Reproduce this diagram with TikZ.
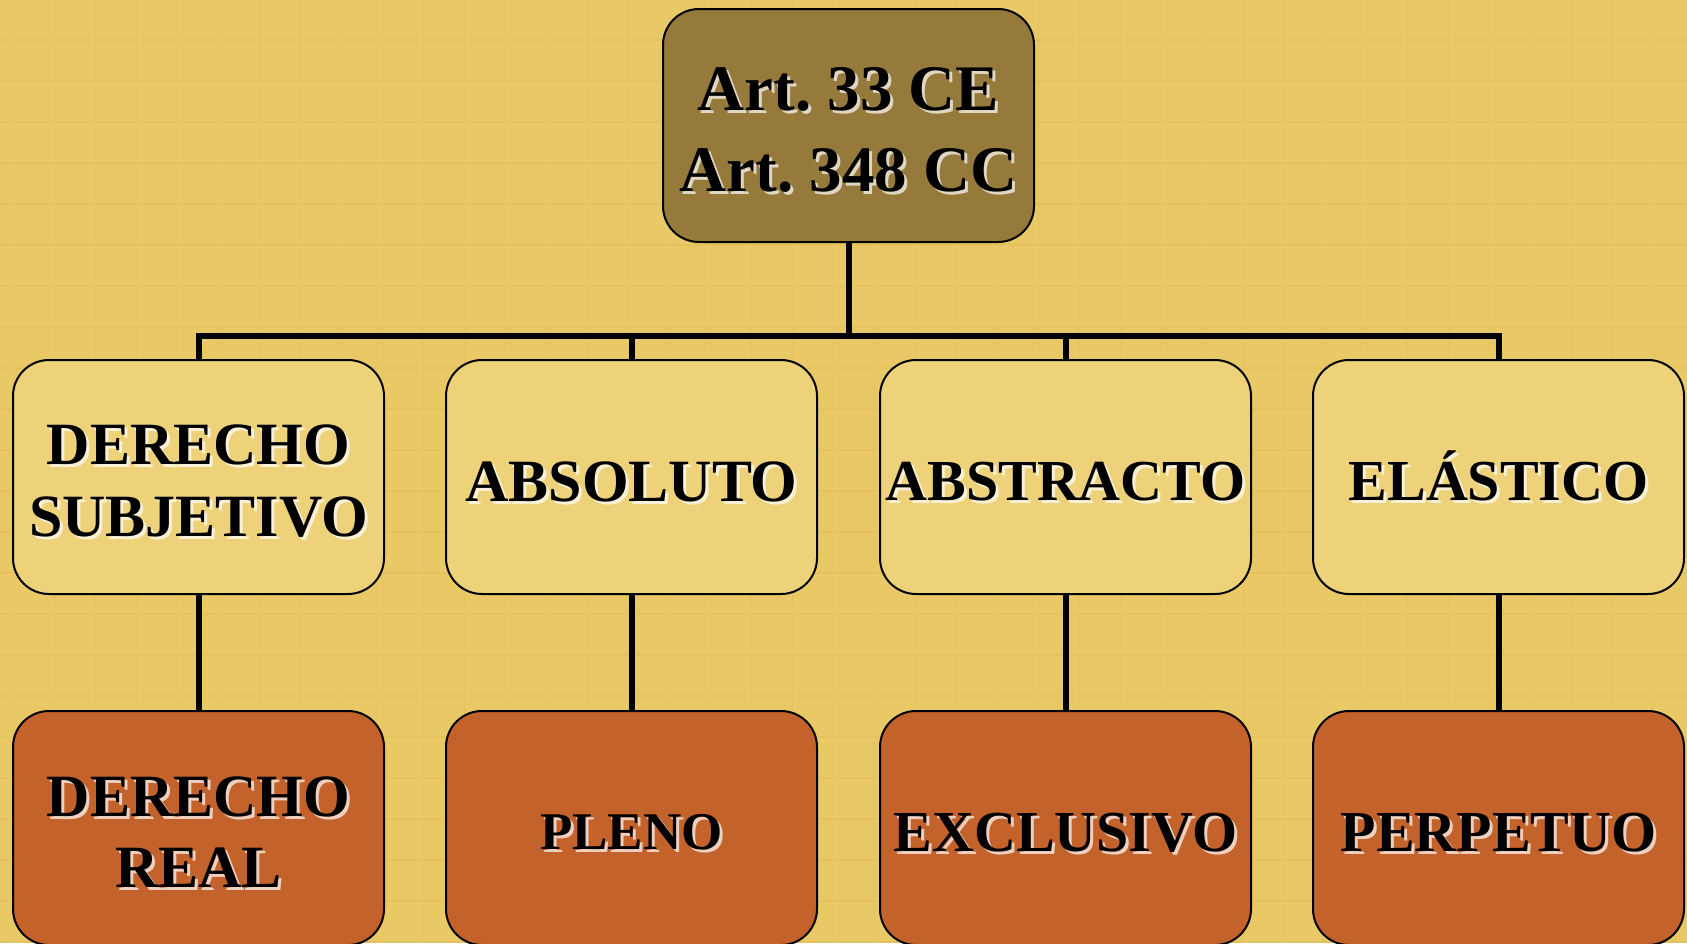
\documentclass[tikz,border=0pt]{standalone}
\usepackage{fontspec}
\setmainfont{Liberation Serif}
\frenchspacing
\definecolor{bg}{HTML}{E9C966}
\definecolor{gridc}{HTML}{E4C25E}
\definecolor{topc}{HTML}{967A3B}
\definecolor{midc}{HTML}{EED27A}
\definecolor{botc}{HTML}{C4622B}
\tikzset{
  box/.style={draw=black, line width=2pt, rounded corners=36pt, minimum width=371pt, minimum height=234pt, inner sep=0pt},
  topbox/.style={box, fill=topc, minimum height=233pt},
  midbox/.style={box, fill=midc},
  botbox/.style={box, fill=botc},
  sz/.style 2 args={font=\fontsize{#1pt}{#2pt}\selectfont\bfseries},
  lbl/.style={align=center, text=black, inner sep=0pt},
  shd/.style={lbl, text=white, text opacity=0.7},
  conn/.style={line width=6pt, draw=black},
  gridline/.style={draw=gridc, line width=1.6pt},
  caph/.style={text height=38.4pt, text depth=0pt},
}
\newcommand\lab[6][]{%
  \node[shd, sz={#4}{#5}, #1] (#2s) at ([shift={(3,7.5)}]#3.center) {#6};
  \node[lbl, sz={#4}{#5}, #1] (#2) at ([shift={(0,4.5)}]#3.center) {#6};}
\begin{document}
\begin{tikzpicture}[x=1pt,y=-1pt]
\useasboundingbox (0,0) rectangle (1687,943);
\clip (0,0) rectangle (1687,943);
\fill[bg] (0,0) rectangle (1687,943);
\foreach \i in {0,...,41} \draw[gridline] ({13.5+41*\i},0) -- ++(0,943);
\foreach \i in {0,...,22} \draw[gridline] (0,{40+41*\i}) -- ++(1687,0);

% boxes
\node[topbox] (top) at (848.5,125.5) {};
\node[midbox] (b1) at (198.5,477) {};
\node[midbox] (b2) at (631.5,477) {};
\node[midbox] (b3) at (1065.5,477) {};
\node[midbox] (b4) at (1498.5,477) {};
\node[botbox] (c1) at (198.5,828) {};
\node[botbox] (c2) at (631.5,828) {};
\node[botbox] (c3) at (1065.5,828) {};
\node[botbox] (c4) at (1498.5,828) {};

% connectors
\coordinate (j) at (848.5,336);
\draw[conn] (top.south) -- (j);
\draw[conn] (b1.north) |- (j);
\draw[conn] (b2.north) |- (j);
\draw[conn] (b3.north) |- (j);
\draw[conn] (b4.north) |- (j);
\draw[conn] (b1.south) -- (c1.north);
\draw[conn] (b2.south) -- (c2.north);
\draw[conn] (b3.south) -- (c3.north);
\draw[conn] (b4.south) -- (c4.north);

% labels
\lab{ttop}{top}{65}{81}{Art. 33 CE\\Art. 348 CC}
\lab{t1}{b1}{60}{72}{DERECHO\\SUBJETIVO}
\lab{t2}{b2}{60}{72}{ABSOLUTO}
\lab{t3}{b3}{58}{70}{ABSTRACTO}
\lab[caph]{t4}{b4}{58}{70}{EL\'ASTICO}
\lab{u1}{c1}{60}{71}{DERECHO\\REAL}
\lab{u2}{c2}{53}{64}{PLENO}
\lab{u3}{c3}{58}{70}{EXCLUSIVO}
\lab{u4}{c4}{58}{70}{PERPETUO}
\end{tikzpicture}
\end{document}
